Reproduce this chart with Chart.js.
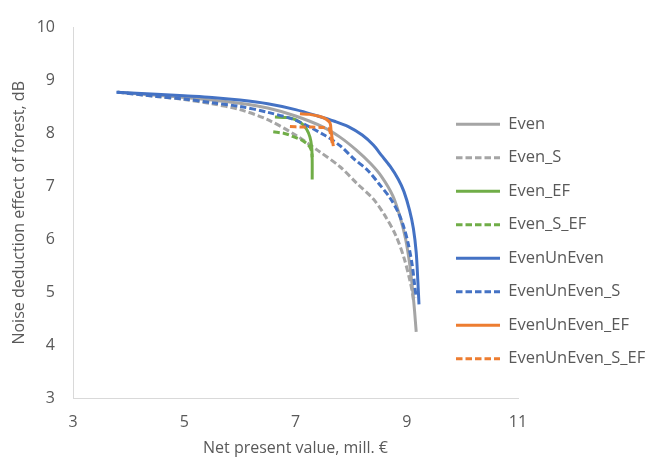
<!DOCTYPE html>
<html>
<head>
<meta charset="utf-8">
<script src="https://cdn.jsdelivr.net/npm/chart.js@4/dist/chart.umd.min.js"></script>
<style>
  html, body { margin: 0; padding: 0; background: #ffffff; }
  #wrap { width: 662px; height: 462px; }
</style>
</head>
<body>
<div id="wrap"><canvas id="c" width="662" height="462"></canvas></div>
<script>
// ---- Data ----
const seriesNames = ["Even", "Even_S", "Even_EF", "Even_S_EF", "EvenUnEven", "EvenUnEven_S", "EvenUnEven_EF", "EvenUnEven_S_EF"];

const evenX = [3.8, 4.5, 5.0, 5.5, 6.0, 6.5, 7.0, 7.5, 7.8, 8.1, 8.35, 8.55, 8.75, 8.88, 8.98, 9.05, 9.1, 9.14, 9.17];
const evenY = [8.78, 8.72, 8.68, 8.63, 8.57, 8.48, 8.33, 8.12, 7.93, 7.68, 7.43, 7.18, 6.82, 6.42, 6.0, 5.55, 5.1, 4.65, 4.25];

const evenSX = [3.8, 4.5, 5.0, 5.5, 6.0, 6.5, 7.0, 7.4, 7.8, 8.1, 8.4, 8.6, 8.8, 8.95, 9.05, 9.1, 9.12];
const evenSY = [8.78, 8.70, 8.64, 8.56, 8.45, 8.26, 7.97, 7.68, 7.37, 7.06, 6.76, 6.46, 6.08, 5.65, 5.25, 5.0, 4.85];

const evenEFX = [6.63, 6.85, 7.0, 7.12, 7.2, 7.26, 7.29, 7.3, 7.3];
const evenEFY = [8.31, 8.30, 8.26, 8.18, 8.08, 7.93, 7.75, 7.5, 7.13];

const evenSEFX = [6.6, 6.8, 6.96, 7.1, 7.2, 7.26, 7.29, 7.3];
const evenSEFY = [8.03, 8.0, 7.94, 7.88, 7.81, 7.74, 7.66, 7.55];

const uneX = [3.78, 4.5, 5.0, 5.5, 6.0, 6.5, 7.0, 7.4, 7.7, 7.95, 8.2, 8.4, 8.55, 8.7, 8.85, 8.95, 9.05, 9.12, 9.17, 9.2, 9.22];
const uneY = [8.78, 8.74, 8.71, 8.68, 8.63, 8.56, 8.45, 8.33, 8.23, 8.13, 7.97, 7.78, 7.58, 7.38, 7.13, 6.9, 6.55, 6.2, 5.75, 5.2, 4.77];

const uneSX = [3.8, 4.5, 5.0, 5.5, 6.0, 6.5, 7.0, 7.5, 7.8, 8.05, 8.3, 8.5, 8.7, 8.85, 8.95, 9.03, 9.1, 9.14, 9.17];
const uneSY = [8.78, 8.70, 8.65, 8.58, 8.51, 8.40, 8.25, 7.98, 7.77, 7.52, 7.30, 7.05, 6.78, 6.50, 6.22, 5.90, 5.50, 5.15, 4.9];

const uneEFX = [7.08, 7.25, 7.44, 7.55, 7.62, 7.64, 7.66, 7.68];
const uneEFY = [8.37, 8.36, 8.32, 8.27, 8.2, 8.05, 7.9, 7.76];

const uneSEFX = [6.9, 7.1, 7.3, 7.5, 7.6, 7.63, 7.66];
const uneSEFY = [8.13, 8.12, 8.12, 8.11, 8.09, 7.98, 7.82];

const xTicks = [3, 5, 7, 9, 11];
const yTicks = [3, 4, 5, 6, 7, 8, 9, 10];

// ---- Build datasets ----
const zip = (xs, ys) => xs.map((x, i) => ({ x: x, y: ys[i] }));
const GRAY = '#A5A5A5', GREEN = '#70AD47', BLUE = '#4472C4', ORANGE = '#ED7D31';
const DASH = [6.5, 3];
const seriesData = [
  [evenX, evenY, GRAY, false],
  [evenSX, evenSY, GRAY, true],
  [evenEFX, evenEFY, GREEN, false],
  [evenSEFX, evenSEFY, GREEN, true],
  [uneX, uneY, BLUE, false],
  [uneSX, uneSY, BLUE, true],
  [uneEFX, uneEFY, ORANGE, false],
  [uneSEFX, uneSEFY, ORANGE, true]
];
const datasets = seriesData.map((s, i) => ({
  label: seriesNames[i],
  data: zip(s[0], s[1]),
  borderColor: s[2],
  backgroundColor: s[2],
  borderWidth: 3,
  borderDash: s[3] ? DASH : [],
  pointRadius: 0,
  pointHoverRadius: 0,
  tension: 0.3,
  fill: false,
  order: -i
}));

const TXT = '#595959';
const FONT = "'Open Sans', sans-serif";

const placeLegend = {
  id: 'placeLegend',
  beforeDraw(chart) {
    const lg = chart.legend;
    if (!lg) return;
    lg.left = 439;
    lg.right = lg.left + lg.width;
    lg.top = 99;
    lg.bottom = 462;
  }
};

new Chart(document.getElementById('c'), {
  type: 'line',
  data: { datasets: datasets },
  options: {
    responsive: false,
    animation: false,
    events: [],
    layout: { padding: { left: 0, right: 144, top: 16, bottom: 0 } },
    plugins: {
      tooltip: { enabled: false },
      legend: {
        position: 'chartArea',
        align: 'start',
        labels: {
          usePointStyle: true,
          pointStyle: 'line',
          pointStyleWidth: 44,
          boxHeight: 10,
          padding: 17,
          color: TXT,
          font: { family: FONT, size: 16.5 },
          sort: (a, b) => a.datasetIndex - b.datasetIndex,
          generateLabels: (chart) => {
            const items = Chart.defaults.plugins.legend.labels.generateLabels(chart);
            items.forEach(it => {
              const ds = chart.data.datasets[it.datasetIndex];
              it.lineDash = ds.borderDash;
              it.strokeStyle = ds.borderColor;
              it.fillStyle = ds.borderColor;
              it.lineWidth = 3;
              it.lineCap = 'butt';
              it.pointStyle = 'line';
            });
            return items;
          }
        }
      }
    },
    scales: {
      x: {
        type: 'linear',
        min: 3, max: 11,
        afterBuildTicks: (s) => { s.ticks = xTicks.map(v => ({ value: v })); },
        afterFit: (s) => { s.height = 64; },
        ticks: { color: TXT, font: { family: FONT, size: 16 }, padding: 15 },
        grid: { display: false, drawTicks: false },
        border: { display: true, color: '#D9D9D9', width: 1 },
        title: { display: true, text: 'Net present value, mill. €', color: TXT, font: { family: FONT, size: 16 }, padding: { top: 0, bottom: 4 } }
      },
      y: {
        type: 'linear',
        min: 3, max: 10,
        afterBuildTicks: (s) => { s.ticks = yTicks.map(v => ({ value: v })); },
        afterFit: (s) => { s.width = 73; },
        ticks: { color: TXT, font: { family: FONT, size: 16 }, padding: 18 },
        grid: { display: false, drawTicks: false },
        border: { display: true, color: '#D9D9D9', width: 1 },
        title: { display: true, text: 'Noise deduction effect of forest, dB', color: TXT, font: { family: FONT, size: 16 }, padding: { top: 10, bottom: 0 } }
      }
    }
  },
  plugins: [placeLegend]
});
</script>
</body>
</html>
